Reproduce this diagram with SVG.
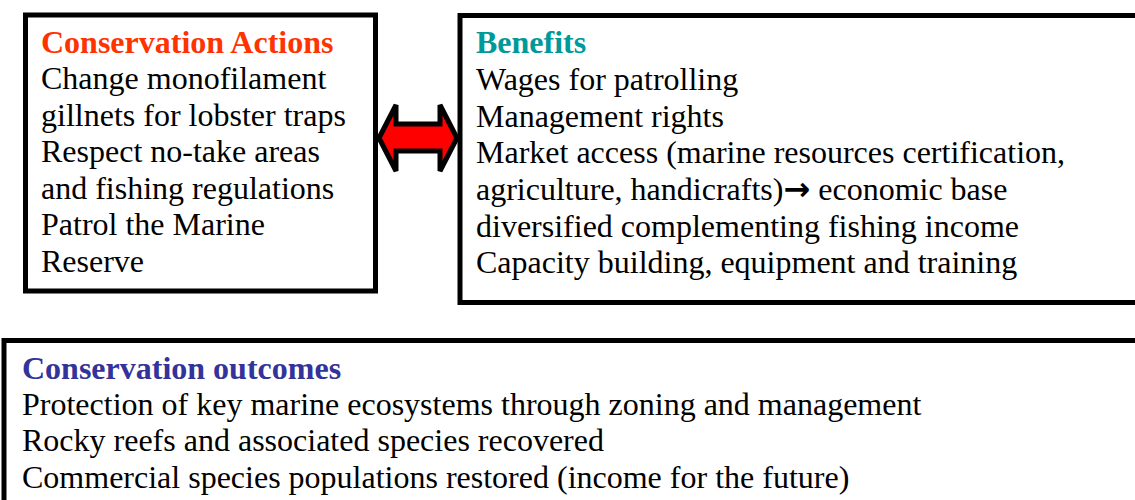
<svg xmlns="http://www.w3.org/2000/svg" width="1135" height="500" viewBox="0 0 1135 500">
<style>
.box{fill:#fff;stroke:#000;stroke-width:5}
.t{font-family:"Liberation Serif","Times New Roman",serif;font-size:32px;fill:#000}
.h{font-weight:bold}
.arr{font-family:"DejaVu Sans",sans-serif;font-weight:bold}
</style>
<rect width="1135" height="500" fill="#fff"/>
<g id="actions">
<rect class="box" x="25.5" y="15" width="350" height="276"/>
<text class="t h" x="41" y="53" style="fill:#FF3300">Conservation Actions</text>
<text class="t" x="41" y="89">Change monofilament</text>
<text class="t" x="41" y="126">gillnets for lobster traps</text>
<text class="t" x="41" y="162">Respect no-take areas</text>
<text class="t" x="41" y="199">and fishing regulations</text>
<text class="t" x="41" y="235">Patrol the Marine</text>
<text class="t" x="41" y="272">Reserve</text>
</g>
<g id="benefits">
<rect class="box" x="460" y="15.5" width="700" height="287"/>
<text class="t h" x="476" y="53" style="fill:#009999">Benefits</text>
<text class="t" x="476" y="90">Wages for patrolling</text>
<text class="t" x="476" y="127">Management rights</text>
<text class="t" x="476" y="163">Market access (marine resources certification,</text>
<text class="t" x="476" y="200">agriculture, handicrafts)<tspan class="arr">→</tspan> economic base</text>
<text class="t" x="476" y="237">diversified complementing fishing income</text>
<text class="t" x="476" y="273">Capacity building, equipment and training</text>
</g>
<g id="outcomes">
<rect class="box" x="4" y="340.5" width="1150" height="200"/>
<text class="t h" x="22" y="379" style="fill:#333399">Conservation outcomes</text>
<text class="t" x="22" y="415">Protection of key marine ecosystems through zoning and management</text>
<text class="t" x="22" y="451">Rocky reefs and associated species recovered</text>
<text class="t" x="22" y="488">Commercial species populations restored (income for the future)</text>
</g>
<g id="connectors">
<polygon points="379,138 396,105 396,124 440,124 440,105 457,138 440,171 440,151 396,151 396,171" fill="#FF0000" stroke="#000" stroke-width="5" stroke-linejoin="miter"/>
</g>
</svg>
